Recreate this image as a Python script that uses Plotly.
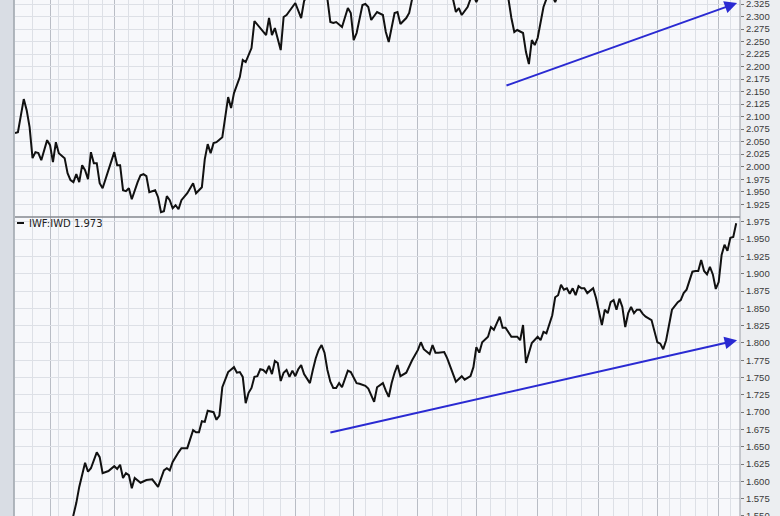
import plotly.graph_objects as go

# ---------------- data (trading-day index, ratio value) ----------------
top_days = [0, 1, 3, 4, 5, 6, 7, 8, 9, 11, 12, 13, 14, 15, 17, 18, 19, 20, 21, 22,
            23, 24, 25, 26, 27, 28, 29, 30, 32, 34, 35, 36, 37, 38, 39, 40, 42, 43, 44, 45,
            46, 48, 49, 50, 51, 52, 53, 54, 55, 56, 57, 59, 61, 62, 64, 65, 66, 67, 68, 69,
            71, 73, 74, 75, 77, 78, 79, 81, 82, 84, 86, 87, 88, 89, 91, 92, 93, 96, 98, 99,
            101, 103, 105, 107, 108, 109, 110, 112, 114, 115, 116, 117, 119, 120, 121, 122, 123, 124, 126, 127,
            128, 130, 131, 132, 134, 135, 136, 138, 141, 144, 147, 150, 151, 152, 153, 155, 156, 157, 158, 159,
            161, 164, 167, 169, 170, 171, 172, 174, 175, 176, 177, 178, 179, 180, 181, 182, 184, 185, 186, 189,
            193, 197, 202, 207, 212, 217, 222, 227, 232, 237, 242, 247]
top_vals = [2.067, 2.069, 2.135, 2.113, 2.079, 2.017, 2.029, 2.027, 2.013, 2.053, 2.043, 2.009, 2.049, 2.027, 2.017, 1.987, 1.973, 1.969, 1.985, 1.969,
            2.003, 1.993, 1.975, 2.029, 2.007, 2.007, 1.967, 1.957, 1.993, 2.029, 2.003, 2.003, 1.953, 1.951, 1.957, 1.935, 1.969, 1.983, 1.985, 1.981,
            1.949, 1.953, 1.939, 1.909, 1.911, 1.941, 1.933, 1.917, 1.923, 1.915, 1.933, 1.947, 1.967, 1.947, 1.959, 2.015, 2.045, 2.027, 2.047, 2.049,
            2.059, 2.139, 2.117, 2.147, 2.179, 2.213, 2.209, 2.237, 2.291, 2.277, 2.263, 2.297, 2.263, 2.277, 2.233, 2.299, 2.303, 2.327, 2.297, 2.331,
            2.352, 2.364, 2.348, 2.335, 2.289, 2.287, 2.289, 2.279, 2.317, 2.307, 2.253, 2.267, 2.323, 2.325, 2.319, 2.293, 2.301, 2.309, 2.303, 2.269,
            2.249, 2.307, 2.309, 2.285, 2.297, 2.307, 2.335, 2.362, 2.381, 2.374, 2.356, 2.335, 2.309, 2.317, 2.303, 2.319, 2.335, 2.342, 2.329, 2.341,
            2.366, 2.378, 2.352, 2.335, 2.297, 2.269, 2.273, 2.267, 2.229, 2.205, 2.253, 2.243, 2.257, 2.287, 2.319, 2.335, 2.342, 2.329, 2.343, 2.372,
            2.391, 2.384, 2.406, 2.398, 2.422, 2.415, 2.437, 2.446, 2.432, 2.458, 2.471, 2.486]

bot_days = [0, 4, 8, 12, 16, 19, 20, 21, 22, 24, 25, 26, 28, 29, 30, 32, 34, 35, 36, 37,
            38, 39, 40, 41, 43, 45, 47, 49, 51, 52, 53, 54, 56, 57, 59, 61, 62, 63, 64, 65,
            66, 68, 69, 70, 71, 73, 75, 76, 77, 78, 79, 80, 81, 82, 83, 84, 85, 86, 87, 88,
            89, 90, 91, 92, 93, 94, 95, 96, 97, 98, 99, 101, 102, 103, 104, 105, 106, 107, 108, 109,
            110, 111, 112, 114, 115, 117, 118, 120, 121, 122, 123, 124, 126, 127, 128, 129, 130, 131, 132, 134,
            136, 138, 139, 140, 142, 143, 144, 145, 147, 148, 150, 151, 152, 153, 154, 156, 157, 158, 159, 160,
            162, 163, 164, 166, 167, 168, 170, 172, 173, 174, 175, 176, 177, 179, 180, 181, 182, 184, 185, 186,
            187, 188, 189, 190, 191, 192, 193, 194, 195, 196, 197, 198, 199, 200, 201, 202, 203, 204, 205, 206,
            207, 208, 209, 210, 211, 212, 213, 214, 215, 216, 218, 220, 221, 222, 223, 225, 227, 228, 229, 230,
            232, 233, 234, 235, 236, 237, 238, 239, 240, 241, 242, 243, 244, 245, 246, 247]
bot_vals = [1.520, 1.510, 1.530, 1.515, 1.525, 1.541, 1.551, 1.569, 1.592, 1.627, 1.614, 1.619, 1.642, 1.635, 1.612, 1.615, 1.622, 1.618, 1.624, 1.605,
            1.612, 1.609, 1.590, 1.605, 1.598, 1.602, 1.603, 1.592, 1.616, 1.619, 1.616, 1.628, 1.642, 1.648, 1.648, 1.674, 1.671, 1.671, 1.687, 1.686,
            1.702, 1.700, 1.689, 1.695, 1.736, 1.758, 1.765, 1.757, 1.758, 1.751, 1.713, 1.728, 1.735, 1.751, 1.752, 1.762, 1.761, 1.757, 1.767, 1.755,
            1.774, 1.771, 1.745, 1.757, 1.761, 1.751, 1.760, 1.752, 1.762, 1.768, 1.755, 1.742, 1.761, 1.778, 1.790, 1.797, 1.786, 1.761, 1.744, 1.735,
            1.735, 1.742, 1.736, 1.760, 1.758, 1.742, 1.741, 1.738, 1.734, 1.723, 1.715, 1.736, 1.742, 1.731, 1.722, 1.742, 1.757, 1.768, 1.752, 1.757,
            1.775, 1.790, 1.801, 1.791, 1.784, 1.797, 1.786, 1.786, 1.787, 1.778, 1.757, 1.744, 1.748, 1.752, 1.747, 1.752, 1.765, 1.794, 1.786, 1.801,
            1.809, 1.823, 1.819, 1.838, 1.822, 1.822, 1.809, 1.809, 1.804, 1.826, 1.771, 1.787, 1.800, 1.809, 1.804, 1.816, 1.814, 1.840, 1.866, 1.869,
            1.884, 1.877, 1.879, 1.871, 1.879, 1.869, 1.882, 1.879, 1.879, 1.872, 1.875, 1.879, 1.865, 1.845, 1.826, 1.848, 1.843, 1.859, 1.862, 1.848,
            1.864, 1.852, 1.823, 1.843, 1.852, 1.843, 1.848, 1.848, 1.842, 1.838, 1.833, 1.801, 1.799, 1.791, 1.804, 1.848, 1.859, 1.862, 1.872, 1.877,
            1.903, 1.904, 1.904, 1.920, 1.904, 1.899, 1.910, 1.899, 1.878, 1.888, 1.927, 1.942, 1.933, 1.952, 1.953, 1.973]

assert len(top_days) == len(top_vals), (len(top_days), len(top_vals))
assert len(bot_days) == len(bot_vals), (len(bot_days), len(bot_vals))

top_ticks = [1.925, 1.950, 1.975, 2.000, 2.025, 2.050, 2.075, 2.100, 2.125, 2.150, 2.175,
             2.200, 2.225, 2.250, 2.275, 2.300, 2.325]
bot_ticks = [1.550, 1.575, 1.600, 1.625, 1.650, 1.675, 1.700, 1.725, 1.750, 1.775, 1.800,
             1.825, 1.850, 1.875, 1.900, 1.925, 1.950, 1.975]

month_lines = [12, 34, 54, 75, 96, 116, 138, 158, 179, 200, 220, 241]
week_lines = [6, 15, 20, 25, 30, 39, 44, 49, 58, 63, 68, 72, 80, 85, 91, 101, 106, 111, 120, 126,
              131, 143, 148, 153, 163, 168, 172, 184, 189, 194, 205, 210, 215, 224, 228, 233, 237, 245]

# trend arrows (start day, start value, end day, end value)
top_arrow = [167.8, 2.161, 247.3, 2.327]
bot_arrow = [107.5, 1.670, 247.3, 1.804]

label_text = "IWF:IWD 1.973"

# ---------------- figure ----------------
fig = go.Figure()
fig.add_trace(go.Scatter(x=top_days, y=top_vals, mode="lines",
                         line=dict(color="#111111", width=2), xaxis="x2", yaxis="y2",
                         showlegend=False, hoverinfo="skip"))
fig.add_trace(go.Scatter(x=bot_days, y=bot_vals, mode="lines",
                         line=dict(color="#111111", width=2), xaxis="x", yaxis="y",
                         showlegend=False, hoverinfo="skip"))

xrange = [0, 248.3]
grid_minor = "#dde0e6"
grid_major = "#b9bdc5"
tickfont = dict(family="Liberation Sans, Arial, sans-serif", size=9.5, color="#3a3a3a")

xcommon = dict(range=xrange, showticklabels=False, ticks="", tickvals=month_lines,
               showgrid=True, gridcolor=grid_major, gridwidth=1, zeroline=False,
               minor=dict(tickvals=week_lines, showgrid=True, gridcolor=grid_minor, gridwidth=1, ticks=""),
               showline=False, automargin=False)

ycommon = dict(side="right", tickformat=".3f", ticks="outside", ticklen=3, tickcolor="#777777",
               tickfont=tickfont, showgrid=True, gridcolor=grid_minor, gridwidth=1,
               zeroline=False, showline=False, ticklabeloverflow="allow", automargin=False)

fig.update_layout(
    width=780, height=516,
    margin=dict(l=15, r=40, t=0, b=0, autoexpand=False),
    paper_bgcolor="#eceef1",
    plot_bgcolor="#f7f8fb",
    xaxis=dict(domain=[0, 1], anchor="y", **xcommon),
    xaxis2=dict(domain=[0, 1], anchor="y2", matches="x", **xcommon),
    yaxis=dict(domain=[0, 0.5795], anchor="x", range=[1.550, 1.982], tickvals=bot_ticks, **ycommon),
    yaxis2=dict(domain=[0.5795, 1], anchor="x2", range=[1.8995, 2.333], tickvals=top_ticks, **ycommon),
    showlegend=False,
)

shapes = [
    # left frame strip
    dict(type="rect", xref="paper", yref="paper", x0=-15 / 725, x1=-1 / 725, y0=0, y1=1,
         fillcolor="#d9dde4", line=dict(width=0), layer="above"),
    dict(type="line", xref="paper", yref="paper", x0=-1 / 725, x1=-1 / 725, y0=0, y1=1,
         line=dict(color="#9ea4ad", width=1.5), layer="above"),
    # right border of plot
    dict(type="line", xref="paper", yref="paper", x0=1, x1=1, y0=0, y1=1,
         line=dict(color="#9a9ea6", width=1), layer="above"),
    # panel separator
    dict(type="line", xref="paper", yref="paper", x0=0, x1=1, y0=0.5795, y1=0.5795,
         line=dict(color="#85898f", width=1.5), layer="above"),
    # legend dash
    dict(type="line", xref="paper", yref="paper", x0=2 / 725, x1=9 / 725, y0=1 - 223 / 516, y1=1 - 223 / 516,
         line=dict(color="#111111", width=2), layer="above"),
]
fig.update_layout(shapes=shapes)

arrow_color = "#2a2ad2"
fig.add_annotation(x=top_arrow[2], y=top_arrow[3], ax=top_arrow[0], ay=top_arrow[1],
                   xref="x2", yref="y2", axref="x2", ayref="y2", text="", showarrow=True,
                   arrowhead=2, arrowsize=1.25, arrowwidth=2, arrowcolor=arrow_color)
fig.add_annotation(x=bot_arrow[2], y=bot_arrow[3], ax=bot_arrow[0], ay=bot_arrow[1],
                   xref="x", yref="y", axref="x", ayref="y", text="", showarrow=True,
                   arrowhead=2, arrowsize=1.25, arrowwidth=2, arrowcolor=arrow_color)
fig.add_annotation(x=12 / 725, y=1 - 223 / 516, xref="paper", yref="paper", text=label_text,
                   showarrow=False, xanchor="left", yanchor="middle",
                   font=dict(family="DejaVu Sans, Verdana, sans-serif", size=10, color="#222222"))

fig.write_html("out.html",
               config={"displayModeBar": False},
               post_script="document.body.style.margin='0';document.body.style.overflow='hidden';")
